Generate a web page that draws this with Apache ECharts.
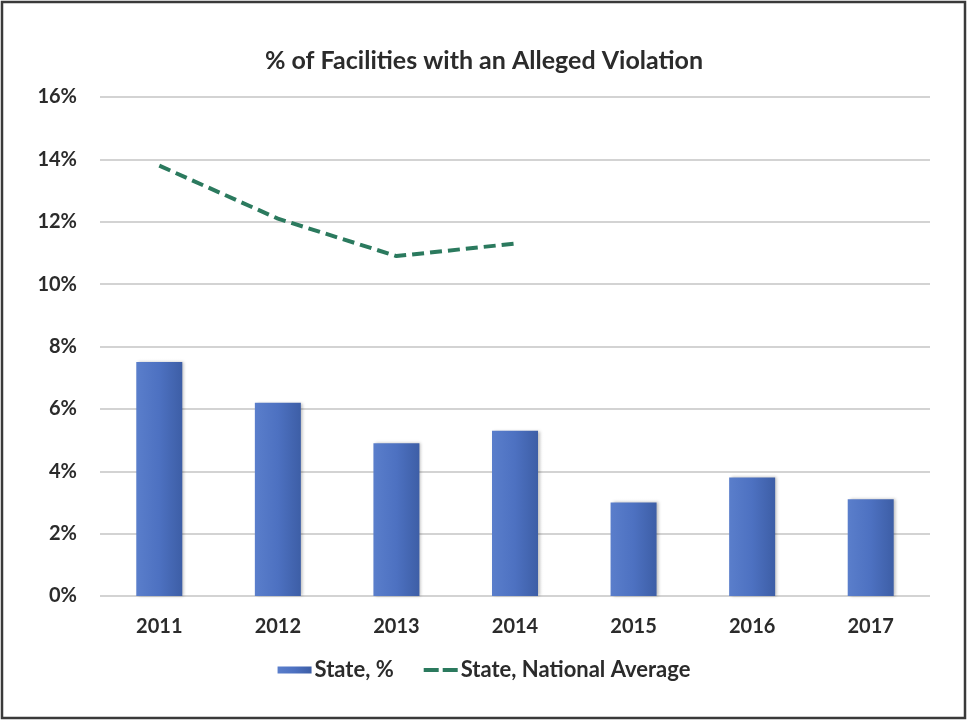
<!DOCTYPE html>
<html>
<head>
<meta charset="utf-8">
<script src="https://cdn.jsdelivr.net/npm/echarts@6/dist/echarts.min.js"></script>
<style>
  html, body { margin: 0; padding: 0; background: #fff; }
  #chart { width: 968px; height: 722px; }
</style>
</head>
<body>
<div id="chart"></div>
<script>
// Alleged violation rates by year
const years = ['2011', '2012', '2013', '2014', '2015', '2016', '2017'];
const statePct = [7.5, 6.2, 4.9, 5.3, 3.0, 3.8, 3.1];
const nationalAvg = [13.8, 12.1, 10.9, 11.3, null, null, null];
const yTicks = [0, 2, 4, 6, 8, 10, 12, 14, 16];

const FONT = 'Lato, "Open Sans", sans-serif';
const TEXT = '#2b2b2b';
const LINE_GREEN = '#2b7a5e';
const chart = echarts.init(document.getElementById('chart'), null, { renderer: 'canvas' });

chart.setOption({
  backgroundColor: '#ffffff',
  animation: false,
  title: {
    text: '% of Facilities with an Alleged Violation',
    left: 'center',
    top: 43,
    textStyle: { fontFamily: FONT, fontWeight: 'bold', fontSize: 25, color: TEXT }
  },
  graphic: [{
    type: 'rect',
    shape: { x: 2, y: 2, width: 963, height: 716 },
    style: { fill: 'none', stroke: '#3a3a3a', lineWidth: 2.5 },
    silent: true
  }],
  legend: {
    top: 654,
    left: 'center',
    itemGap: 30,
    itemWidth: 34,
    itemHeight: 7,
    textStyle: { fontFamily: FONT, fontWeight: 'bold', fontSize: 22, color: TEXT, padding: [0, 0, 0, -2] },
    data: [
      { name: 'State, %', icon: 'rect' },
      {
        name: 'State, National Average',
        // two short dashes for the dashed line key
        icon: 'path://M0,0H15V4H0Z M19,0H34V4H19Z',
        itemStyle: { color: LINE_GREEN, borderWidth: 0 }
      }
    ]
  },
  grid: { left: 100, right: 38, top: 97, bottom: 126 },
  xAxis: {
    type: 'category',
    data: years,
    axisLine: { show: false },
    axisTick: { show: false },
    axisLabel: { fontFamily: FONT, fontWeight: 'bold', fontSize: 20, color: TEXT, margin: 21 }
  },
  yAxis: {
    type: 'value',
    min: yTicks[0],
    max: yTicks[yTicks.length - 1],
    interval: 2,
    axisLine: { show: false },
    axisTick: { show: false },
    splitLine: { lineStyle: { color: '#c4c4c4', width: 1.5 } },
    axisLabel: {
      fontFamily: FONT, fontWeight: 'bold', fontSize: 20, color: TEXT, margin: 23,
      formatter: v => v + '%'
    }
  },
  series: [
    {
      name: 'State, %',
      type: 'bar',
      data: statePct,
      barWidth: 46,
      itemStyle: {
        color: new echarts.graphic.LinearGradient(0, 0, 1, 0, [
          { offset: 0, color: '#5a7ecb' },
          { offset: 0.5, color: '#4d71c1' },
          { offset: 1, color: '#3d5ea6' }
        ]),
        shadowColor: 'rgba(0,0,0,0.25)',
        shadowBlur: 3,
        shadowOffsetX: 2
      }
    },
    {
      name: 'State, National Average',
      type: 'line',
      data: nationalAvg,
      connectNulls: false,
      symbol: 'none',
      lineStyle: { color: LINE_GREEN, width: 4, type: [12, 6] },
      itemStyle: { color: LINE_GREEN }
    }
  ]
});
</script>
</body>
</html>
